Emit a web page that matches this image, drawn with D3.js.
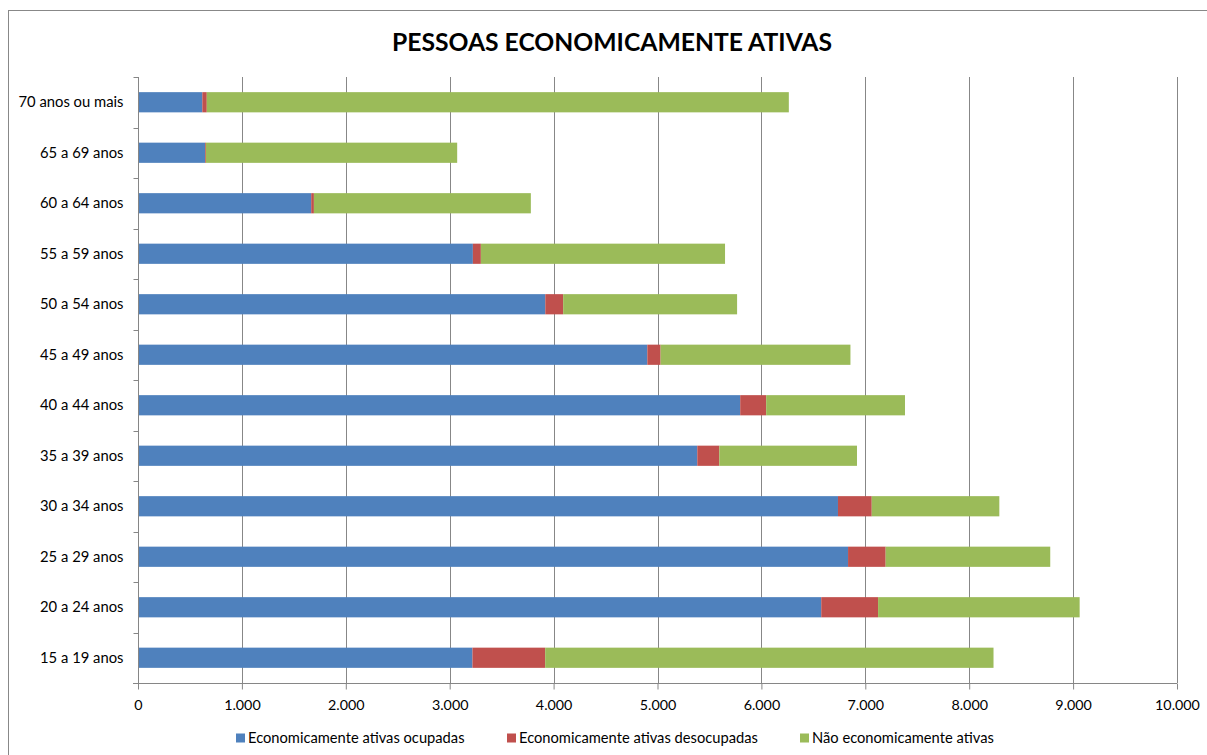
<!DOCTYPE html>
<html><head><meta charset="utf-8">
<script src="https://cdn.jsdelivr.net/npm/d3@7"></script>
<style>html,body{margin:0;padding:0;background:#fff;}svg{display:block;}</style>
</head><body>
<script>
const categories = ["15 a 19 anos","20 a 24 anos","25 a 29 anos","30 a 34 anos","35 a 39 anos","40 a 44 anos","45 a 49 anos","50 a 54 anos","55 a 59 anos","60 a 64 anos","65 a 69 anos","70 anos ou mais"];
const ocupadas    = [3219, 6576, 6834, 6737, 5383, 5796, 4902, 3920, 3223, 1667, 645, 619];
const desocupadas = [700, 547, 362, 325, 212, 250, 128, 172, 77, 26, 8, 43];
const naoAtivas   = [4315, 1940, 1584, 1228, 1325, 1336, 1827, 1674, 2350, 2088, 2419, 5602];
const seriesNames = ["Economicamente ativas ocupadas","Economicamente ativas desocupadas","Não economicamente ativas"];
const seriesColors = ["#4F81BD","#C0504D","#9BBB59"];
const xTicks = [0,1000,2000,3000,4000,5000,6000,7000,8000,9000,10000];
const title = "PESSOAS ECONOMICAMENTE ATIVAS";

const W = 1207, H = 755;
const font = "Lato, 'Open Sans', sans-serif";
const m = {left:138, right:1177, top:77, bottom:683};

const svg = d3.select("body").append("svg").attr("width",W).attr("height",H);
svg.append("rect").attr("width",W).attr("height",H).attr("fill","#fff");
// chart border
svg.append("rect").attr("x",8.5).attr("y",10.5).attr("width",W+20).attr("height",H+20)
  .attr("fill","none").attr("stroke","#888").attr("stroke-width",1);

// title
svg.append("text").attr("x",612).attr("y",51).attr("text-anchor","middle")
  .attr("font-family",font).attr("font-weight","bold").attr("font-size",24.7)
  .attr("fill","#000").text(title);

const x = d3.scaleLinear().domain([0,10000]).range([m.left,m.right]);
const y = d3.scaleBand().domain(categories.slice().reverse()).range([m.top,m.bottom]).paddingInner(0.6).paddingOuter(0.3);

// gridlines
svg.append("g").selectAll("line").data(xTicks.filter(d=>d>0)).join("line")
  .attr("x1",d=>Math.round(x(d))+0.5).attr("x2",d=>Math.round(x(d))+0.5)
  .attr("y1",m.top).attr("y2",m.bottom).attr("stroke","#878787").attr("stroke-width",1);

// stacked data
const rows = categories.map((c,i)=>({cat:c, s0:ocupadas[i], s1:desocupadas[i], s2:naoAtivas[i]}));
const stack = d3.stack().keys(["s0","s1","s2"])(rows);
svg.append("g").selectAll("g").data(stack).join("g")
  .attr("fill",(d,i)=>seriesColors[i])
  .selectAll("rect").data(d=>d).join("rect")
  .attr("x",d=>x(d[0])).attr("width",d=>x(d[1])-x(d[0]))
  .attr("y",d=>y(d.data.cat)).attr("height",y.bandwidth());

// x axis
const xAxis = d3.axisBottom(x).tickValues(xTicks).tickSize(6).tickSizeOuter(0)
  .tickFormat(d=>d3.format(",")(d).replace(/,/g,"."));
const gx = svg.append("g").attr("transform",`translate(0,${m.bottom+0.5})`).call(xAxis);
gx.select(".domain").attr("stroke","#868686").attr("d",`M${m.left-5},0H${m.right}`);
gx.selectAll(".tick line").attr("stroke","#868686");
gx.selectAll(".tick text").attr("font-family",font).attr("font-size",14.3).attr("fill","#000").attr("dy","1.2em");

// y axis
const gy = svg.append("g").attr("transform",`translate(${m.left+0.5},0)`);
gy.append("line").attr("x1",0).attr("x2",0).attr("y1",m.top).attr("y2",m.bottom).attr("stroke","#868686");
const boundaries = d3.range(categories.length+1).map(i=>m.top + i*(m.bottom-m.top)/categories.length);
gy.selectAll("line.t").data(boundaries).join("line").attr("class","t")
  .attr("x1",-5).attr("x2",0).attr("y1",d=>Math.round(d)+0.5).attr("y2",d=>Math.round(d)+0.5).attr("stroke","#868686");
gy.selectAll("text").data(categories).join("text")
  .attr("x",-15).attr("y",d=>y(d)+y.bandwidth()/2).attr("dy","0.35em")
  .attr("text-anchor","end").attr("font-family",font).attr("font-size",14.8).attr("fill","#000").text(d=>d);

// legend
const legX = [236, 507, 800];
const leg = svg.append("g").selectAll("g").data(seriesNames).join("g")
  .attr("transform",(d,i)=>`translate(${legX[i]},738)`);
leg.append("rect").attr("x",0).attr("y",-4.5).attr("width",9).attr("height",9).attr("fill",(d,i)=>seriesColors[i]);
leg.append("text").attr("x",12).attr("y",0).attr("dy","0.35em").attr("font-family",font).attr("font-size",14.7).attr("fill","#000").text(d=>d);
</script>
</body></html>
